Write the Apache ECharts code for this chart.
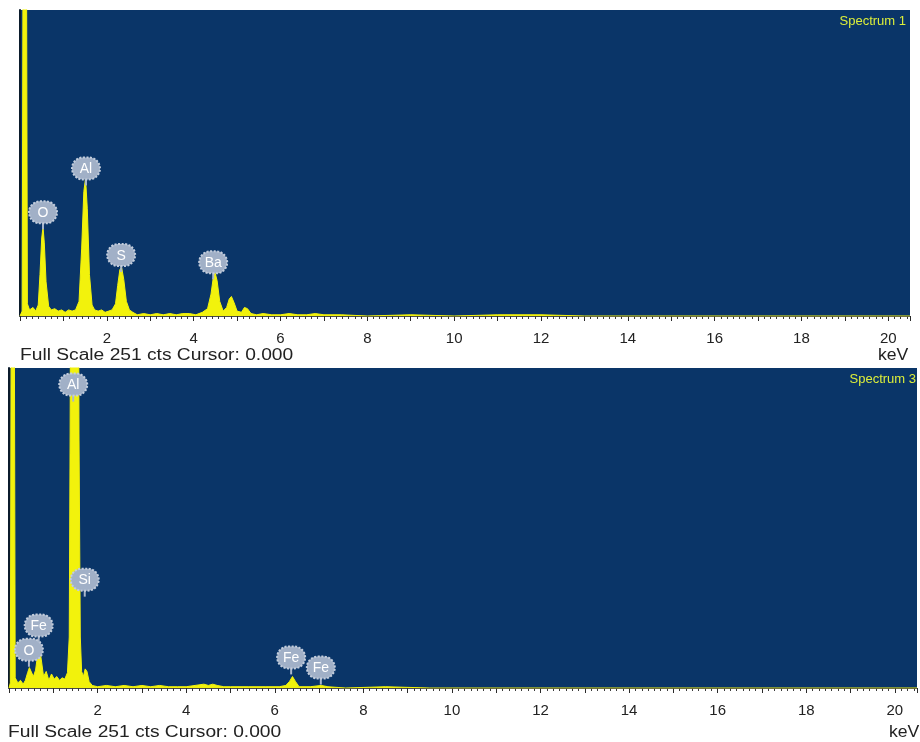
<!DOCTYPE html>
<html>
<head>
<meta charset="utf-8">
<script src="https://cdn.jsdelivr.net/npm/echarts@6/dist/echarts.min.js"></script>
<style>
html, body { margin: 0; padding: 0; background: #fff; }
#chart { width: 920px; height: 742px; }
</style>
</head>
<body>
<div id="chart"></div>
<script>
// Spectrum 1 (top panel) - energy in keV, counts
const kev1 = [
    0, 0.05, 0.07, 0.15, 0.17, 0.22, 0.3, 0.36, 0.42, 0.46,
    0.5, 0.53, 0.56, 0.6, 0.66, 0.72, 0.8, 0.88, 0.96, 1.04,
    1.12, 1.2, 1.28, 1.36, 1.42, 1.47, 1.51, 1.55, 1.6, 1.66,
    1.72, 1.8, 1.88, 1.96, 2.04, 2.12, 2.2, 2.25, 2.3, 2.34,
    2.39, 2.45, 2.52, 2.6, 2.7, 2.85, 3.0, 3.15, 3.3, 3.45,
    3.6, 3.75, 3.9, 4.05, 4.2, 4.32, 4.4, 4.45, 4.49, 4.54,
    4.6, 4.68, 4.76, 4.82, 4.87, 4.93, 5.0, 5.1, 5.17, 5.24,
    5.32, 5.45, 5.6, 5.8, 6.0, 6.2, 6.4, 6.6, 6.8, 7.0,
    7.4, 8.0, 9.0, 10.0, 11.0, 12.0, 13.0, 20.5
];
const cts1 = [
    0, 4, 300, 300, 10, 5, 7, 4, 9, 34,
    64, 73, 60, 28, 8, 5, 6, 4, 5, 3,
    5, 4, 5, 12, 55, 102, 113, 88, 34, 9,
    5, 4, 5, 3, 4, 5, 10, 25, 38, 40,
    30, 12, 5, 3, 1, 2, 1, 2, 1, 2,
    1, 2, 2, 1, 3, 6, 18, 31, 36, 29,
    12, 4, 7, 14, 16, 11, 4, 3, 7, 6,
    2, 1, 2, 1, 1, 2, 1, 1, 2, 1,
    1, 0, 1, 0, 1, 1, 0, 0
];
const tagNames1 = ['O', 'Al', 'S', 'Ba'];
const tagKev1 = [0.53, 1.52, 2.33, 4.45];
const tagCts1 = [85, 121, 50, 44];

// Spectrum 3 (bottom panel)
const kev3 = [
    0, 0.03, 0.05, 0.12, 0.14, 0.2, 0.26, 0.32, 0.37, 0.42,
    0.46, 0.5, 0.55, 0.6, 0.65, 0.69, 0.73, 0.78, 0.84, 0.9,
    0.96, 1.02, 1.08, 1.14, 1.2, 1.26, 1.32, 1.36, 1.38, 1.41,
    1.48, 1.55, 1.58, 1.61, 1.64, 1.68, 1.72, 1.76, 1.81, 1.88,
    2.0, 2.2, 2.4, 2.6, 2.8, 3.0, 3.2, 3.4, 3.6, 3.8,
    4.0, 4.2, 4.4, 4.5, 4.6, 4.7, 4.85, 5.0, 5.4, 5.8,
    6.1, 6.25, 6.33, 6.4, 6.47, 6.55, 6.8, 7.05, 7.2, 7.6,
    8.5, 9.5, 20.5
];
const cts3 = [
    0, 4, 300, 300, 8, 4, 6, 3, 6, 12,
    16, 15, 9, 14, 27, 31, 22, 9, 13, 6,
    11, 7, 9, 6, 8, 7, 12, 40, 200, 600,
    900, 600, 200, 40, 13, 9, 15, 13, 5, 2,
    1, 2, 1, 2, 1, 2, 1, 2, 1, 1,
    1, 2, 3, 2, 3, 2, 1, 1, 1, 1,
    1, 2, 5, 9, 5, 1, 1, 2, 1, 0,
    1, 0, 0
];
const tagNames3 = ['O', 'Fe', 'Al', 'Si', 'Fe', 'Fe'];
const tagKev3 = [0.45, 0.67, 1.45, 1.71, 6.37, 7.04];
const tagCts3 = [30, 49, 238, 85, 24, 16];

const xLabels = [2, 4, 6, 8, 10, 12, 14, 16, 18, 20];
const fullScale = 251;

const FONT = '"Liberation Sans", Arial, sans-serif';
const BLUE = '#0a3568';
const YELLOW = '#f2f20c';

var chartDom = document.getElementById('chart');
var myChart = echarts.init(chartDom);
var option;

const zip = (xs, ys) => xs.map((x, i) => [x, ys[i]]);

const xAxisFor = (idx) => ({
    type: 'value',
    gridIndex: idx,
    min: 0,
    max: 20.5,
    interval: 1,
    axisLine: { show: true, lineStyle: { color: '#4a4a4a', width: 1 } },
    axisTick: { show: true, length: 5, lineStyle: { color: '#2a2a2a' } },
    minorTick: { show: true, splitNumber: 7, length: 3, lineStyle: { color: '#3a3a3a' } },
    splitLine: { show: false },
    axisLabel: {
        margin: 15,
        fontSize: 15,
        color: '#222',
        fontFamily: FONT,
        formatter: (v) => xLabels.includes(v) ? String(v) : ''
    }
});

const yAxisFor = (idx) => ({
    type: 'value',
    gridIndex: idx,
    min: 0,
    max: fullScale,
    axisLine: { show: true, lineStyle: { color: '#0b1b2c', width: 2 } },
    axisTick: { show: false },
    axisLabel: { show: false },
    splitLine: { show: false }
});

const spectrumSeries = (kev, cts, idx) => ({
    type: 'line',
    xAxisIndex: idx,
    yAxisIndex: idx,
    data: zip(kev, cts),
    showSymbol: false,
    clip: true,
    lineStyle: { color: YELLOW, width: 1 },
    areaStyle: { color: YELLOW, opacity: 1 },
    z: 2
});

// element marker: grey bubble with a short stem
const tagSeries = (names, kev, cts, idx) => ({
    type: 'custom',
    xAxisIndex: idx,
    yAxisIndex: idx,
    data: zip(kev, cts),
    clip: false,
    z: 5,
    renderItem: function (params, api) {
        const p = api.coord([api.value(0), api.value(1)]);
        return {
            type: 'group',
            children: [
                {
                    type: 'line',
                    shape: { x1: p[0], y1: p[1] + 9, x2: p[0], y2: p[1] + 17 },
                    style: { stroke: '#aab7cc', lineWidth: 2 }
                },
                {
                    type: 'rect',
                    shape: { x: p[0] - 14, y: p[1] - 11, width: 28, height: 22, r: 11 },
                    style: { fill: '#a1b0c7', stroke: '#c3cddc', lineWidth: 2, lineDash: [2, 1.5] }
                },
                {
                    type: 'text',
                    style: {
                        text: names[params.dataIndex],
                        x: p[0],
                        y: p[1] + 1,
                        align: 'center',
                        verticalAlign: 'middle',
                        fill: '#ffffff',
                        fontSize: 14,
                        fontFamily: FONT
                    }
                }
            ]
        };
    }
});

const footText = 'Full Scale ' + fullScale + ' cts Cursor: 0.000';

option = {
    animation: false,
    backgroundColor: '#ffffff',
    grid: [
        { left: 20, top: 10, width: 890, height: 306, show: true, backgroundColor: BLUE, borderWidth: 0 },
        { left: 9, top: 368, width: 911, height: 320, show: true, backgroundColor: BLUE, borderWidth: 0 }
    ],
    xAxis: [xAxisFor(0), xAxisFor(1)],
    yAxis: [yAxisFor(0), yAxisFor(1)],
    series: [
        spectrumSeries(kev1, cts1, 0),
        spectrumSeries(kev3, cts3, 1),
        tagSeries(tagNames1, tagKev1, tagCts1, 0),
        tagSeries(tagNames3, tagKev3, tagCts3, 1)
    ],
    graphic: [
        { type: 'text', right: 14, top: 15, z: 10,
          style: { text: 'Spectrum 1', fontSize: 13, fill: '#dcee3a', fontFamily: FONT } },
        { type: 'text', right: 4, top: 373, z: 10,
          style: { text: 'Spectrum 3', fontSize: 13, fill: '#dcee3a', fontFamily: FONT } },
        { type: 'text', x: 20, y: 348, scaleX: 1.2,
          style: { text: footText, fontSize: 16, fill: '#222', fontFamily: FONT } },
        { type: 'text', x: 878, y: 348, scaleX: 1.1,
          style: { text: 'keV', fontSize: 16, fill: '#222', fontFamily: FONT } },
        { type: 'text', x: 8, y: 725, scaleX: 1.2,
          style: { text: footText, fontSize: 16, fill: '#222', fontFamily: FONT } },
        { type: 'text', x: 889, y: 725, scaleX: 1.1,
          style: { text: 'keV', fontSize: 16, fill: '#222', fontFamily: FONT } }
    ]
};

option && myChart.setOption(option);
</script>
</body>
</html>
